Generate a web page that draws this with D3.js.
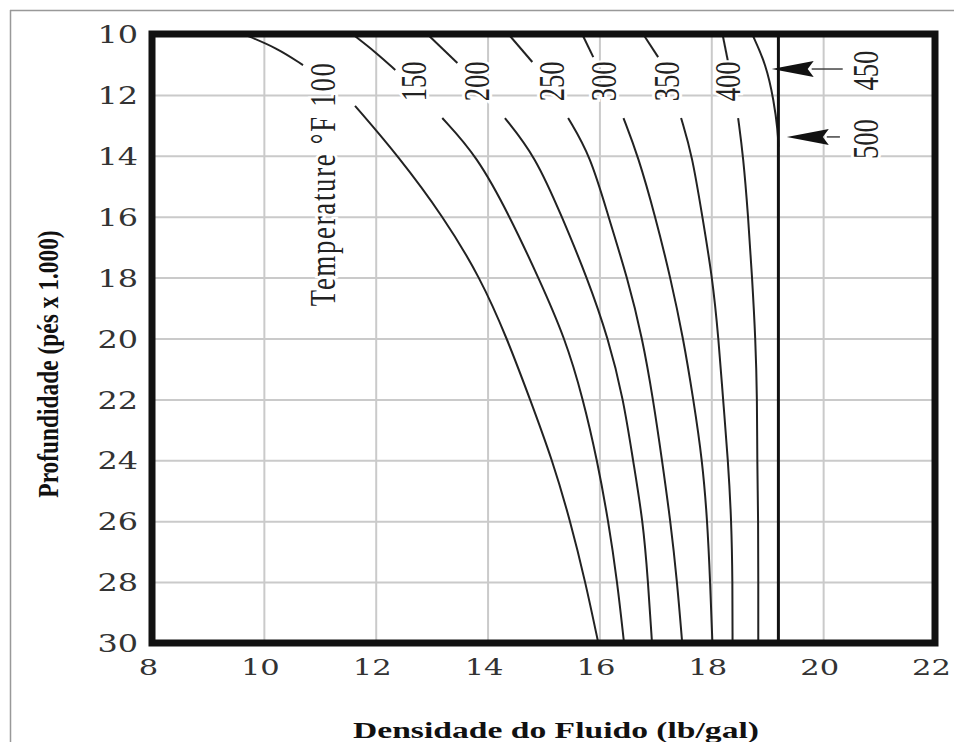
<!DOCTYPE html>
<html>
<head>
<meta charset="utf-8">
<script src="https://cdn.jsdelivr.net/npm/d3@7"></script>
<style>
  body { margin: 0; background: #fff; }
  svg { display: block; }
</style>
</head>
<body>
<div id="chart"></div>
<script>
// axis ticks
var xTicks = [8, 10, 12, 14, 16, 18, 20, 22];
var yTicks = [10, 12, 14, 16, 18, 20, 22, 24, 26, 28, 30];

// temperature curves, [density lb/gal, depth x1000 ft]
var temps = [100, 150, 200, 250, 300, 350, 400];
var upperSeg = [
  [[9.63, 10], [10.24, 10.46], [10.70, 11.02]],
  [[11.58, 10], [12.0, 10.6], [12.35, 11.18]],
  [[12.92, 10], [13.46, 10.95]],
  [[14.37, 10], [14.80, 10.92]],
  [[15.69, 10], [15.89, 10.76]],
  [[16.78, 10], [17.05, 10.76]],
  [[18.20, 10], [18.30, 10.92]]
];
var lowerSeg = [
  [[11.63, 12.36], [12.40, 14], [13.21, 16], [13.87, 18], [14.35, 20], [14.76, 22], [15.16, 24], [15.48, 26], [15.75, 28], [15.98, 30]],
  [[13.19, 12.76], [13.81, 14], [14.40, 16], [14.91, 18], [15.39, 20], [15.71, 22], [15.96, 24], [16.16, 26], [16.32, 28], [16.44, 30]],
  [[14.31, 12.76], [14.85, 14], [15.33, 16], [15.78, 18], [16.16, 20], [16.43, 22], [16.60, 24], [16.78, 26], [16.87, 28], [16.94, 30]],
  [[15.44, 12.76], [15.84, 14], [16.16, 16], [16.50, 18], [16.77, 20], [16.96, 22], [17.12, 24], [17.27, 26], [17.39, 28], [17.48, 30]],
  [[16.43, 12.76], [16.69, 14], [17.00, 16], [17.27, 18], [17.50, 20], [17.68, 22], [17.84, 24], [17.93, 26], [17.98, 28], [18.02, 30]],
  [[17.46, 12.76], [17.66, 14], [17.84, 16], [18.02, 18], [18.13, 20], [18.21, 22], [18.30, 24], [18.36, 26], [18.38, 28], [18.38, 30]],
  [[18.48, 12.76], [18.57, 14], [18.66, 16], [18.73, 18], [18.79, 20], [18.82, 22], [18.82, 24], [18.84, 26], [18.84, 28], [18.84, 30]]
];
var curve450 = [[18.73, 10], [18.98, 11.0], [19.12, 12.2], [19.19, 13.2], [19.2, 13.7]];
var line500 = [[19.2, 10], [19.2, 30]];

// curve labels
var tempLabels = ["Temperature °F 100", "150", "200", "250", "300", "350", "400"];
var labelX = [11.06, 12.69, 13.81, 15.16, 16.09, 17.21, 18.30];
var labelTop = 10.9;

// arrow call-outs for 450 and 500
var arrowLabels = ["450", "500"];
var arrowDepth = [11.15, 13.38];
var arrowTip = [19.08, 19.35];
var arrowTail = [20.35, 20.3];
var arrowLabelX = 20.76;
var arrowLabelDepth = [11.2, 13.45];

var width = 954, height = 742;

var svg = d3.select("#chart").append("svg")
  .attr("width", width)
  .attr("height", height);

// outer frame of the picture
svg.append("line").attr("x1", 10).attr("x2", width).attr("y1", 10.5).attr("y2", 10.5)
  .attr("stroke", "#999").attr("stroke-width", 1.5);
svg.append("line").attr("x1", 10.5).attr("x2", 10.5).attr("y1", 10).attr("y2", height)
  .attr("stroke", "#999").attr("stroke-width", 1.5);

var x = d3.scaleLinear().domain([8, 22]).range([152, 935]);
var y = d3.scaleLinear().domain([10, 30]).range([34, 643]);

// grid
svg.append("g")
  .attr("transform", "translate(0," + y(30) + ")")
  .call(d3.axisBottom(x).tickValues(xTicks).tickSize(-(y(30) - y(10))).tickFormat(""))
  .call(function(g) {
    g.select(".domain").remove();
    g.selectAll("line").attr("stroke", "#cacaca").attr("stroke-width", 2);
  });
svg.append("g")
  .attr("transform", "translate(" + x(8) + ",0)")
  .call(d3.axisLeft(y).tickValues(yTicks).tickSize(-(x(22) - x(8))).tickFormat(""))
  .call(function(g) {
    g.select(".domain").remove();
    g.selectAll("line").attr("stroke", "#cacaca").attr("stroke-width", 2);
  });

// tick labels
var sx = 1.33;
svg.append("g")
  .attr("transform", "translate(" + x(8) + ",0)")
  .call(d3.axisLeft(y).tickValues(yTicks).tickSize(0).tickFormat(d3.format("d")))
  .call(function(g) {
    g.select(".domain").remove();
    g.selectAll("text")
      .attr("x", -14 / sx)
      .attr("dy", "0.36em")
      .attr("transform", "scale(" + sx + ",1)")
      .attr("font-family", "DejaVu Serif")
      .attr("font-size", 24)
      .attr("fill", "#333");
  });
svg.append("g")
  .attr("transform", "translate(0," + y(30) + ")")
  .call(d3.axisBottom(x).tickValues(xTicks).tickSize(0).tickFormat(d3.format("d")))
  .call(function(g) {
    g.select(".domain").remove();
    g.selectAll("text")
      .attr("x", -4 / sx)
      .attr("y", 24)
      .attr("dy", "0.36em")
      .attr("transform", "scale(" + sx + ",1)")
      .attr("font-family", "DejaVu Serif")
      .attr("font-size", 23)
      .attr("fill", "#333");
  });

var line = d3.line()
  .x(function(d) { return x(d[0]); })
  .y(function(d) { return y(d[1]); })
  .curve(d3.curveBasis);

var curves = svg.append("g").attr("fill", "none").attr("stroke", "#222").attr("stroke-width", 2);

curves.selectAll(".upper").data(upperSeg).enter().append("path")
  .attr("class", "upper").attr("d", line);
curves.selectAll(".lower").data(lowerSeg).enter().append("path")
  .attr("class", "lower").attr("d", line);
curves.append("path").attr("d", line(curve450));
curves.append("path").attr("d", line(line500)).attr("stroke", "#111").attr("stroke-width", 3);

// rotated labels over the curves
svg.append("g").selectAll("text").data(tempLabels).enter().append("text")
  .attr("transform", function(d, i) {
    return "translate(" + x(labelX[i]) + "," + y(labelTop) + ") rotate(-90) scale(0.74,1)";
  })
  .attr("text-anchor", "end")
  .attr("dominant-baseline", "central")
  .attr("font-family", "Liberation Serif")
  .attr("font-size", 36)
  .attr("letter-spacing", function(d, i) { return i === 0 ? 2.4 : 0; })
  .attr("fill", "#222")
  .attr("stroke", "#fff").attr("stroke-width", 6).attr("paint-order", "stroke")
  .text(function(d) { return d; });

// arrows
var arrows = svg.append("g");
arrowLabels.forEach(function(lab, i) {
  var yy = y(arrowDepth[i]), tip = x(arrowTip[i]), tail = x(arrowTail[i]);
  var headLen = 42, headW = 8;
  arrows.append("line")
    .attr("x1", tip + headLen - 2).attr("x2", tail)
    .attr("y1", yy).attr("y2", yy)
    .attr("stroke", "#444").attr("stroke-width", 1.5);
  arrows.append("path")
    .attr("d", "M" + tip + "," + yy + "L" + (tip + headLen) + "," + (yy - headW) +
      "L" + (tip + headLen - 6) + "," + yy + "L" + (tip + headLen) + "," + (yy + headW) + "Z")
    .attr("fill", "#111");
  arrows.append("text")
    .attr("transform", "translate(" + x(arrowLabelX) + "," + y(arrowLabelDepth[i]) + ") rotate(-90) scale(0.74,1)")
    .attr("text-anchor", "middle")
    .attr("dominant-baseline", "central")
    .attr("font-family", "Liberation Serif")
    .attr("font-size", 36)
    .attr("fill", "#222")
    .attr("stroke", "#fff").attr("stroke-width", 6).attr("paint-order", "stroke")
    .text(lab);
});

// plot border
svg.append("rect")
  .attr("x", x(8)).attr("y", y(10))
  .attr("width", x(22) - x(8)).attr("height", y(30) - y(10))
  .attr("fill", "none").attr("stroke", "#111").attr("stroke-width", 7);

// axis titles
svg.append("text")
  .attr("transform", "translate(48," + 364 + ") rotate(-90) scale(0.78,1)")
  .attr("text-anchor", "middle")
  .attr("dominant-baseline", "central")
  .attr("font-family", "Liberation Serif")
  .attr("font-weight", "bold")
  .attr("font-size", 30)
  .attr("fill", "#111")
  .text("Profundidade (pés x 1.000)");

svg.append("text")
  .attr("transform", "translate(556,738) scale(1.4,1)")
  .attr("text-anchor", "middle")
  .attr("font-family", "Liberation Serif")
  .attr("font-weight", "bold")
  .attr("font-size", 24)
  .attr("fill", "#111")
  .text("Densidade do Fluido (lb/gal)");
</script>
</body>
</html>
